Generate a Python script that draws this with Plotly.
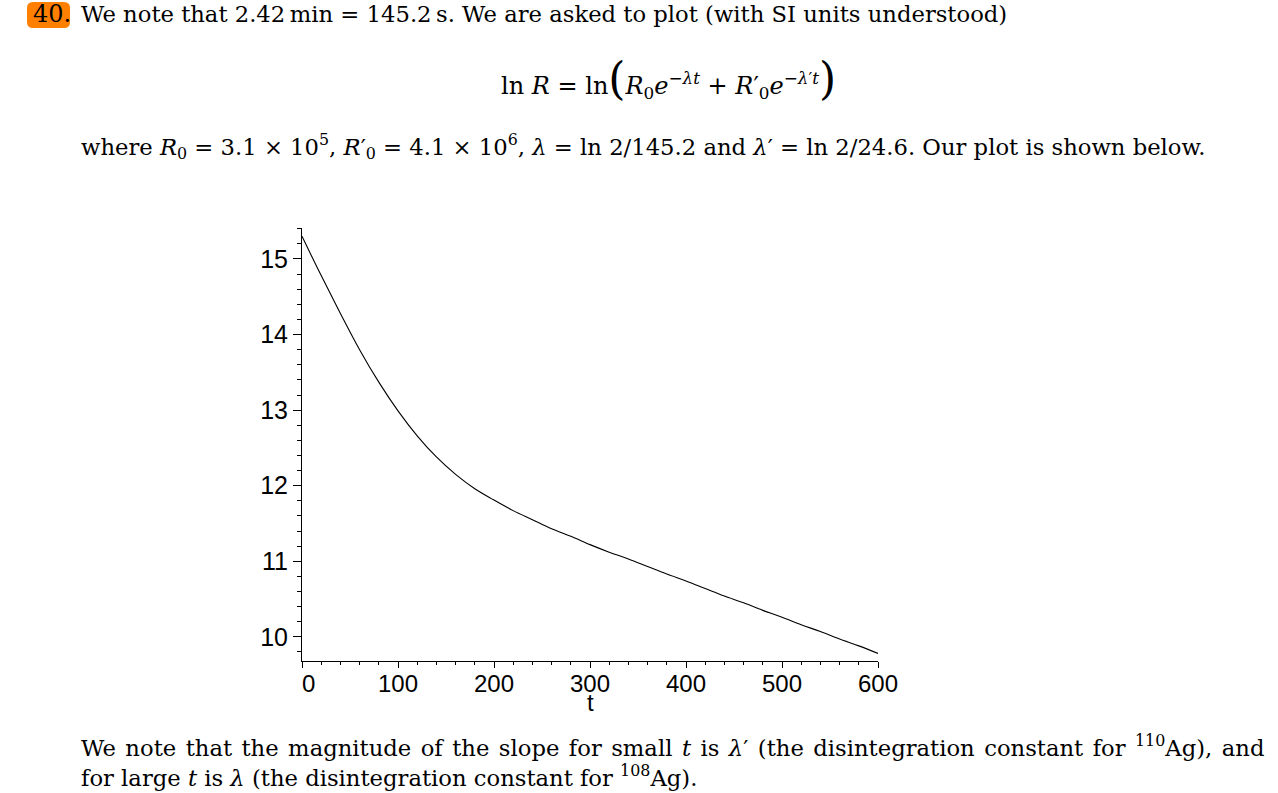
import plotly.graph_objects as go

# Values (ln R versus t, SI units)
t_values = [0, 20, 40, 60, 80, 100, 120, 140, 160, 180, 200, 220, 240, 260, 280,
            300, 320, 340, 360, 380, 400, 420, 440, 460, 480, 500, 520, 540, 560, 580, 600]
lnR_values = [15.30, 14.78, 14.28, 13.80, 13.37, 12.99, 12.66, 12.38, 12.15, 11.96,
              11.81, 11.67, 11.55, 11.43, 11.33, 11.22, 11.12, 11.03, 10.93, 10.83,
              10.74, 10.64, 10.54, 10.45, 10.35, 10.26, 10.16, 10.07, 9.97, 9.88, 9.78]

x_ticks = [0, 100, 200, 300, 400, 500, 600]
x_tick_text = ["\u00a0\u00a00", "100", "200", "300", "400", "500", "600"]
y_ticks = [10, 11, 12, 13, 14, 15]

W, H = 1278, 793
L, R, T, B = 302, 878, 228, 661


def PX(px):
    return (px - L) / (R - L)


def PY(py):
    return (B - py) / (B - T)


SERIF = "DejaVu Serif"
SANS = "Liberation Sans"
FS = 22.7

fig = go.Figure()
fig.add_trace(go.Scatter(x=t_values, y=lnR_values, mode="lines",
                         line=dict(color="black", width=1.1, shape="spline"),
                         hoverinfo="skip", showlegend=False))

annotations = []


def txt(text, x, y, anchor="left", size=FS, font=SERIF):
    annotations.append(dict(text=text, x=PX(x), y=PY(y), xref="paper", yref="paper",
                            xanchor=anchor, yanchor="middle", showarrow=False,
                            font=dict(family=font, size=size, color="black")))


txt("40.", 31, 14, size=24)
txt("We note that 2.42\u2009min = 145.2\u2009s. We are asked to plot (with SI units understood)", 79, 14)
eq = ("ln <i>R</i> = ln<span style=\"font-size:44px\">(</span><i>R</i><sub>0</sub><i>e</i><sup>\u2212<i>\u03bbt</i></sup>"
      " + <i>R</i>\u2032<sub>0</sub><i>e</i><sup>\u2212<i>\u03bb</i>\u2032<i>t</i></sup><span style=\"font-size:44px\">)</span>")
txt(eq, 668, 78, anchor="center", size=24)
txt("where <i>R</i><sub>0</sub> = 3.1 \u00d7 10<sup>5</sup>, <i>R</i>\u2032<sub>0</sub> = 4.1 \u00d7 10<sup>6</sup>, "
    "<i>\u03bb</i> = ln 2/145.2 and <i>\u03bb</i>\u2032 = ln 2/24.6. Our plot is shown below.", 79, 146)
line3 = ("We note that the magnitude of the slope for small <i>t</i> is <i>\u03bb</i>\u2032 (the disintegration constant for "
         "<sup>110</sup>Ag), and")
# justified line: slightly stretched inter-word spaces
line3 = line3.replace(" ", " \u200a").replace("<i \u200a>", "<i>").replace("<sup \u200a>", "<sup>")
txt(line3, 79, 746)
txt("for large <i>t</i> is <i>\u03bb</i> (the disintegration constant for <sup>108</sup>Ag).", 79, 776)
txt("t", 590, 702, anchor="center", size=24, font=SANS)

# rounded orange highlight behind "40."
x0, x1, y0, y1 = PX(27), PX(70), PY(28), PY(2)
rx = 6 / (R - L)
ry = 6 / (B - T)
path = (f"M {x0+rx},{y0} L {x1-rx},{y0} Q {x1},{y0} {x1},{y0+ry} L {x1},{y1-ry} Q {x1},{y1} {x1-rx},{y1} "
        f"L {x0+rx},{y1} Q {x0},{y1} {x0},{y1-ry} L {x0},{y0+ry} Q {x0},{y0} {x0+rx},{y0} Z")
fig.add_shape(type="path", path=path, xref="paper", yref="paper",
              fillcolor="#FF8000", line=dict(width=0), layer="below")

fig.update_layout(
    width=W, height=H,
    margin=dict(l=L, r=W - R, t=T, b=H - B, pad=0),
    paper_bgcolor="white", plot_bgcolor="white",
    annotations=annotations,
    xaxis=dict(range=[0, 600], tickvals=x_ticks, ticktext=x_tick_text,
               showline=True, linecolor="black", linewidth=1, showgrid=False, zeroline=False,
               ticks="outside", ticklen=6, tickcolor="black", tickwidth=1,
               ticklabelstandoff=-5,
               tickfont=dict(family=SANS, size=24, color="black"),
               minor=dict(dtick=20, ticks="outside", ticklen=3, tickcolor="black", showgrid=False)),
    yaxis=dict(range=[9.68, 15.41], tickvals=y_ticks,
               showline=True, linecolor="black", linewidth=1, showgrid=False, zeroline=False,
               ticks="outside", ticklen=8, tickcolor="black", tickwidth=1,
               tickfont=dict(family=SANS, size=25, color="black"),
               minor=dict(dtick=0.2, tick0=10, ticks="outside", ticklen=4, tickcolor="black", showgrid=False)),
)

fig.write_html("out.html")
